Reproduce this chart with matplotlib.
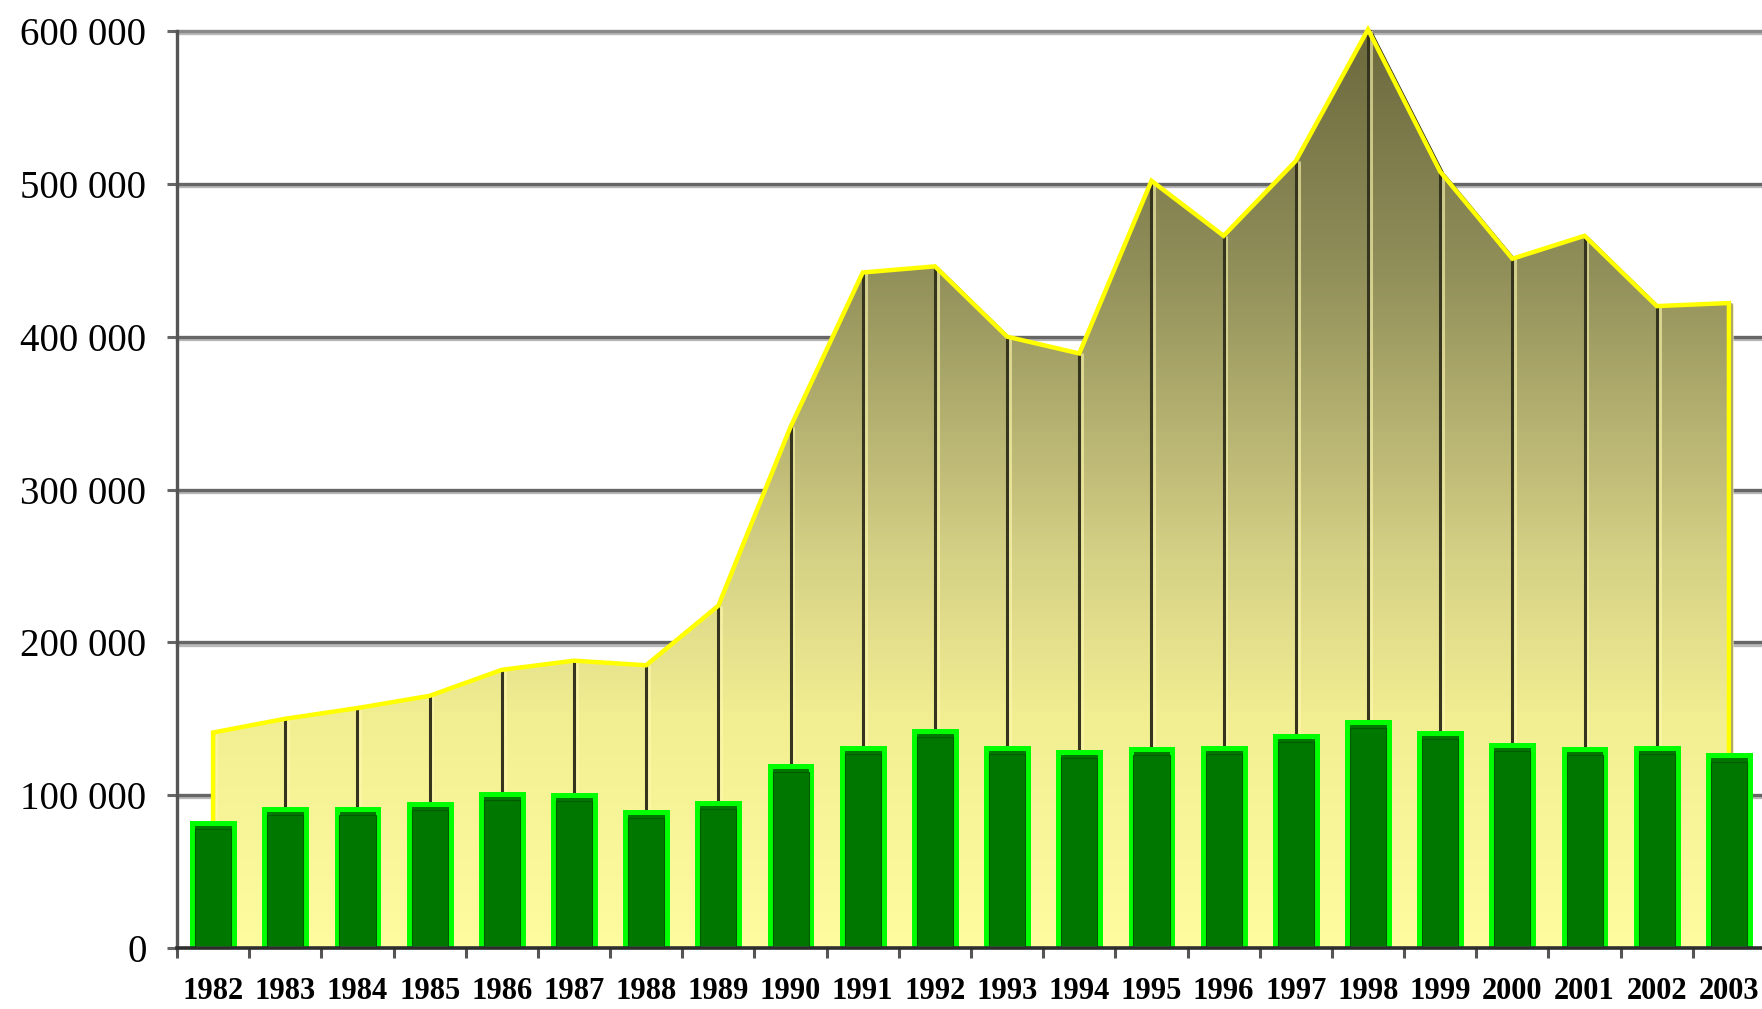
import numpy as np
import matplotlib
matplotlib.use("Agg")
import matplotlib.pyplot as plt
import matplotlib.patheffects as pe
from matplotlib.colors import LinearSegmentedColormap

years = [str(y) for y in range(1982, 2004)]

# total (area) and green bars
total = [141000, 150000, 157000, 165000, 182000, 188000, 185000, 224000,
         341000, 442000, 446000, 400000, 389000, 502000, 466000, 515000,
         601000, 508000, 451000, 466000, 420000, 422000]
bars = [82000, 91000, 91000, 94000, 101000, 100000, 89000, 95000,
        119000, 131000, 142000, 131000, 128000, 130000, 131000, 139000,
        148000, 141000, 133000, 130000, 131000, 126000]

y_ticks = [0, 100000, 200000, 300000, 400000, 500000, 600000]
y_labels = ["0", "100 000", "200 000", "300 000", "400 000", "500 000", "600 000"]

plt.rcParams['font.family'] = ['Liberation Serif', 'DejaVu Serif']

fig = plt.figure(figsize=(17.62, 10.09), dpi=100)
ax = fig.add_axes([177 / 1762, 61 / 1009, 1588 / 1762, 917 / 1009])
x = np.arange(len(years))
ymax = 600000

ax.set_xlim(-0.5, len(years) - 0.5)
ax.set_ylim(0, ymax)

# horizontal grid lines (with a light line under them)
for yv in y_ticks[1:]:
    ax.axhline(yv, color='#666666' if yv < ymax else '#8a8a8a', lw=2.4, zorder=1, clip_on=False,
               path_effects=[pe.SimpleLineShadow(offset=(0, -1.6), shadow_color='#b8b8b8', alpha=1),
                             pe.Normal()])

# dark shadow of the area edge, only seen outside the area
ex = np.concatenate([[x[0]], x, [x[-1]]])
ey = np.concatenate([[0], total, [0]])
sy = np.array(ey) - 1500
sy[0] = sy[-1] = 0
ax.plot(np.array(ex) + 0.03, sy, color='#2a2a18', lw=3, zorder=1.5, clip_on=False,
        solid_capstyle='butt')

# area with vertical gradient
stops = [(0.0, '#fffca0'), (0.25, '#f2ee92'), (0.42, '#d6d286'),
         (0.58, '#b4b070'), (0.75, '#8f8d58'), (1.0, '#6c6a3e')]
cmap = LinearSegmentedColormap.from_list('olive', stops)
grad = np.linspace(0, 1, 256).reshape(-1, 1)
img = ax.imshow(grad, cmap=cmap, origin='lower', aspect='auto',
                extent=[x[0], x[-1], 0, ymax], zorder=2)
poly = ax.fill_between(x, 0, total, facecolor='none', edgecolor='none', zorder=2)
img.set_clip_path(poly.get_paths()[0], transform=ax.transData)

# drop lines
ax.vlines(x, 0, total, color='#35351f', lw=2.2, zorder=3,
          path_effects=[pe.SimpleLineShadow(offset=(2, 0), shadow_color='#fffab0', alpha=0.6),
                        pe.Normal()])

# yellow edge of the area
ax.plot(ex, ey, color='#ffff00', lw=3.2, zorder=4, solid_joinstyle='miter',
        solid_capstyle='butt', clip_on=False)

# bars
ax.bar(x, bars, width=0.58, color='#007800', edgecolor='#00ff00', linewidth=3.6, zorder=5)
ax.bar(x, np.array(bars) - 4000, width=0.5, color='none', edgecolor='#005a00', linewidth=0.8, zorder=6)

# axes styling
for side in ['top', 'right']:
    ax.spines[side].set_visible(False)
ax.spines['left'].set_color('#555555')
ax.spines['left'].set_linewidth(2.4)
ax.spines['bottom'].set_color('#2e2e2e')
ax.spines['bottom'].set_linewidth(2.6)
ax.spines['bottom'].set_zorder(7)

ax.set_yticks(y_ticks)
ax.set_yticklabels(y_labels)
ax.tick_params(axis='y', length=7, width=2.2, color='#666666', pad=15, labelsize=28)

ax.set_xticks(x)
ax.set_xticklabels(years, fontweight='bold')
ax.set_xticks(np.arange(-0.5, len(years)), minor=True)
ax.tick_params(axis='x', which='major', length=0, pad=21, labelsize=22)
ax.tick_params(axis='x', which='minor', length=7, width=2.2, color='#555555')

fig.savefig('out.png', dpi=100)
